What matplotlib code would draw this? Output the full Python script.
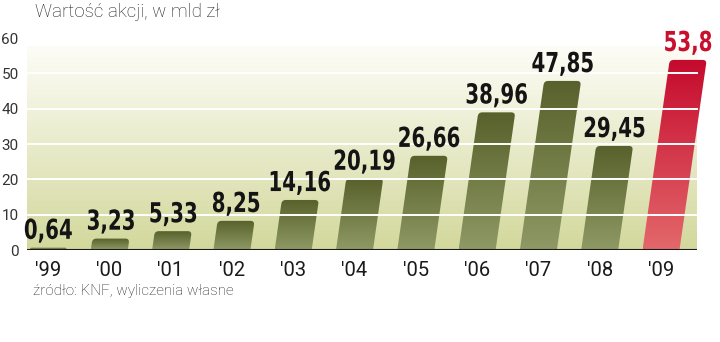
import numpy as np
import matplotlib.pyplot as plt
from matplotlib.path import Path
from matplotlib.patches import PathPatch
from matplotlib.colors import to_rgb
from matplotlib.textpath import TextPath
from matplotlib.font_manager import FontProperties
from matplotlib.transforms import Affine2D, ScaledTranslation

years = ["'99", "'00", "'01", "'02", "'03", "'04", "'05", "'06", "'07", "'08", "'09"]
values = [0.64, 3.23, 5.33, 8.25, 14.16, 20.19, 26.66, 38.96, 47.85, 29.45, 53.8]
yticks = [0, 10, 20, 30, 40, 50, 60]

title = 'Wartość akcji, w mld zł'
source = 'źródło: KNF, wyliczenia własne'

txt_font = ['Roboto', 'DejaVu Sans']
num_prop = FontProperties(family='DejaVu Sans', weight='bold')

fig = plt.figure(figsize=(7.2, 3.42), dpi=100)
# axes box in pixels: x 27..715, baseline at y=250, 60 at y=38
ax = fig.add_axes([27 / 720, 92 / 342, 688 / 720, 212 / 342])
for sp in ax.spines.values():
    sp.set_visible(False)

step = 61.3                      # px between bars
x_left = (27 - 48) / step
x_right = (715 - 48) / step
panel_right = (697 - 48) / step
panel_top = 57.5
px_y = 212 / 60                  # px per unit of value

# background panel, light at top, olive-cream at bottom
top_c = np.array(to_rgb('#fdfdf7'))
bot_c = np.array(to_rgb('#d3d89c'))
t = np.linspace(0, 1, 256)[:, None]
bg = bot_c + (top_c - bot_c) * t
ax.imshow(bg[:, None, :], extent=[x_left, panel_right, 0, panel_top],
          origin='lower', aspect='auto', zorder=0)

w = 37 / step                    # bar width
slant = 0.143 * px_y / step      # x shift per unit of height
rx, ry = 4 / step, 4 / px_y


def bar_path(c, h):
    r_y = min(ry, h * 0.8)
    r_x = rx * r_y / ry
    bl = (c - w / 2, 0)
    br = (c + w / 2, 0)
    tr = (c + w / 2 + slant * h, h)
    tl = (c - w / 2 + slant * h, h)
    verts = [bl, br,
             (br[0] + slant * (h - r_y), h - r_y), tr, (tr[0] - r_x, h),
             (tl[0] + r_x, h), tl, (bl[0] + slant * (h - r_y), h - r_y),
             bl]
    codes = [Path.MOVETO, Path.LINETO,
             Path.LINETO, Path.CURVE3, Path.CURVE3,
             Path.LINETO, Path.CURVE3, Path.CURVE3,
             Path.CLOSEPOLY]
    return Path(verts, codes)


def narrow_label(x, y, s, color, size_px=27.5, squeeze=0.72):
    # bold digits squeezed horizontally, bottom-centred at (x, y) in data
    tp = TextPath((0, 0), s, size=size_px, prop=num_prop)
    ext = tp.get_extents()
    tr = (Affine2D().translate(-(ext.x0 + ext.x1) / 2, -ext.y0)
          .scale(squeeze, 1) + ScaledTranslation(x, y, ax.transData))
    ax.add_patch(PathPatch(tp, transform=tr, facecolor=color, edgecolor='none',
                           clip_on=False, zorder=4))


for i, (yr, v) in enumerate(zip(years, values)):
    last = i == len(values) - 1
    c_top = np.array(to_rgb('#c50a2d' if last else '#58612b'))
    c_bot = np.array(to_rgb('#e3686b' if last else '#8f9965'))
    patch = PathPatch(bar_path(i, v), facecolor='none', edgecolor='none', zorder=2)
    ax.add_patch(patch)
    grad = c_bot + (c_top - c_bot) * t
    im = ax.imshow(grad[:, None, :], extent=[i - w / 2, i + w / 2 + slant * v, 0, v],
                   origin='lower', aspect='auto', zorder=2)
    im.set_clip_path(patch)
    narrow_label(i + slant * v, v + 5 / px_y, f'{v:g}'.replace('.', ','),
                 '#c8102e' if last else '#141414')

# white grid lines run over the bars
for g in yticks[1:-1]:
    ax.plot([x_left, panel_right], [g, g], color='white', lw=1.4, zorder=3)
ax.plot([x_left, panel_right], [0, 0], color='#1a1a1a', lw=1.5, zorder=3,
        solid_capstyle='butt')

ax.set_xlim(x_left, x_right)
ax.set_ylim(0, 60)
ax.set_xticks(range(len(years)))
ax.set_xticklabels(years, fontsize=14.5, family=txt_font, color='#1a1a1a')
ax.set_yticks(yticks)
ax.set_yticklabels([str(y) for y in yticks], fontsize=11, family=txt_font,
                   color='#333333')
ax.tick_params(axis='x', length=0, pad=8)
ax.tick_params(axis='y', length=0, pad=6)

fig.text(35 / 720, 1 - 3 / 342, title, ha='left', va='top', fontsize=13.5,
         family=txt_font, fontweight='light', color='#1e1e1e')
fig.text(33 / 720, 1 - 284 / 342, source, ha='left', va='top', fontsize=11,
         family=txt_font, fontweight='light', color='#222222')

fig.savefig('out.png', dpi=100)
